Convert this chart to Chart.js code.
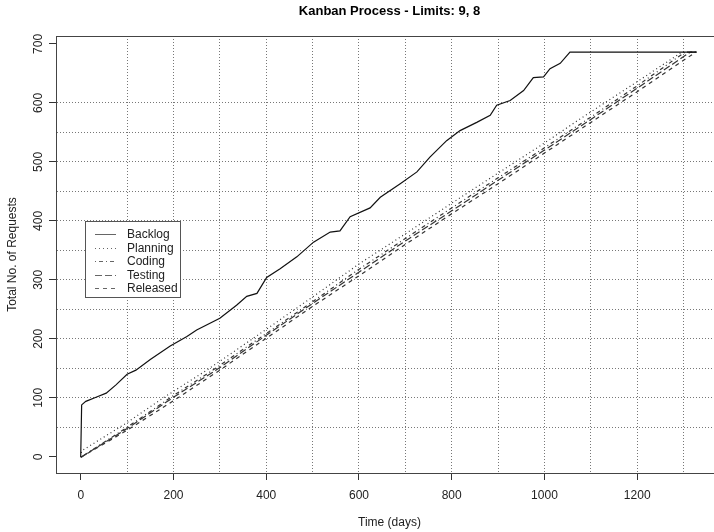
<!doctype html>
<html lang="en">
<head>
    <meta charset="utf-8">
    <title>Kanban Process - Limits: 9, 8</title>
    <script src="https://cdn.jsdelivr.net/npm/chart.js@4/dist/chart.umd.min.js"></script>
    <style>
        html, body { margin: 0; padding: 0; overflow: hidden; background: #fff; }
        canvas { display: block; }
    </style>
</head>
<body>

<canvas id="cfd" width="724" height="532"></canvas>

<script>
    // cumulative number of requests per stage
    var backlog_days = [0, 2, 11, 33, 55, 76, 100, 119, 150, 193, 229, 250, 300, 336, 358, 380, 401, 430, 466,
                        502, 538, 559, 581, 624, 646, 689, 725, 753, 789, 818, 854, 883, 897, 926, 955,
                        976, 998, 1012, 1034, 1055, 1328];
    var backlog = [0, 88, 94, 101, 108, 122, 140, 147, 165, 188, 204, 215, 235, 257, 272, 277, 304, 319, 339,
                   364, 381, 383, 407, 422, 440, 463, 483, 508, 536, 553, 567, 579, 596, 604, 621,
                   643, 644, 658, 667, 686, 686];

    var planning_days = [0, 2, 100, 178, 272, 400, 500, 602, 700, 800, 900, 1000, 1077, 1200, 1296, 1328];
    var planning = [0, 10, 58, 100, 147, 216, 271, 328, 378, 430, 481, 532, 573, 636, 686, 686];

    var coding_days = [0, 2, 100, 200, 285, 400, 500, 602, 700, 800, 900, 1000, 1100, 1200, 1303, 1328];
    var coding = [0, 0, 50, 104, 147, 209, 263, 319, 370, 422, 473, 524, 576, 629, 686, 686];

    var testing_days = [0, 2, 100, 200, 292, 400, 500, 602, 700, 800, 900, 1000, 1100, 1200, 1314, 1328];
    var testing = [0, 0, 48, 101, 147, 206, 260, 314, 366, 417, 469, 520, 572, 625, 686, 686];

    var released_days = [0, 2, 100, 200, 300, 400, 500, 602, 700, 800, 900, 1000, 1100, 1200, 1326, 1328];
    var released = [0, 0, 45, 95, 147, 201, 255, 308, 360, 412, 463, 515, 567, 619, 686, 686];

    var x_ticks = [0, 100, 200, 300, 400, 500, 600, 700, 800, 900, 1000, 1100, 1200, 1300];
    var y_ticks = [0, 50, 100, 150, 200, 250, 300, 350, 400, 450, 500, 550, 600, 650, 700];
    var y_labels = [0, 100, 200, 300, 400, 500, 600, 700];

    var FONT = '"Liberation Sans", Arial, Helvetica, sans-serif';
    Chart.defaults.font.family = FONT;
    Chart.defaults.font.size = 12;
    Chart.defaults.color = "#222";

    function pts(days, vals) {
        return days.map((d, i) => ({x: d, y: vals[i]}));
    }

    function series(label, days, vals, dash, color) {
        return {
            label: label,
            data: pts(days, vals),
            borderColor: color,
            borderWidth: 1.2,
            borderDash: dash,
            pointRadius: 0,
            tension: 0,
            fill: false
        };
    }

    var NONE = "rgba(0,0,0,0)";

    // R style extras: box, rotated y labels, titles, legend inside the plot
    var r_look = {
        id: "r_look",
        afterDraw: function (chart) {
            var ctx = chart.ctx, a = chart.chartArea, ys = chart.scales.y;
            ctx.save();

            ctx.strokeStyle = "#444";
            ctx.lineWidth = 1;
            ctx.setLineDash([]);
            ctx.strokeRect(a.left + 0.5, a.top + 0.5, a.right - a.left, a.bottom - a.top);

            ctx.fillStyle = "#222";
            ctx.font = "12px " + FONT;
            ctx.textAlign = "center";
            ctx.textBaseline = "alphabetic";
            y_labels.forEach(function (v) {
                ctx.save();
                ctx.translate(41.5, ys.getPixelForValue(v));
                ctx.rotate(-Math.PI / 2);
                ctx.fillText(String(v), 0, 0);
                ctx.restore();
            });

            var cx = (a.left + a.right) / 2, cy = (a.top + a.bottom) / 2;
            ctx.fillText("Time (days)", cx, 526);
            ctx.save();
            ctx.translate(16, cy);
            ctx.rotate(-Math.PI / 2);
            ctx.fillText("Total No. of Requests", 0, 0);
            ctx.restore();

            ctx.font = "bold 13px " + FONT;
            ctx.fillStyle = "#000";
            ctx.fillText("Kanban Process - Limits: 9, 8", cx, 15);

            // legend
            var lx = 85.5, ly = 221.5, lw = 95, lh = 76;
            ctx.fillStyle = "#fff";
            ctx.fillRect(lx, ly, lw, lh);
            ctx.strokeStyle = "#555";
            ctx.strokeRect(lx, ly, lw, lh);
            ctx.font = "12px " + FONT;
            ctx.textAlign = "left";
            ctx.textBaseline = "middle";
            chart.data.datasets.forEach(function (ds, i) {
                var y = Math.round(234 + i * 13.5) + 0.5;
                ctx.strokeStyle = "#666";
                ctx.lineWidth = 1;
                ctx.setLineDash(ds.borderDash);
                ctx.beginPath();
                ctx.moveTo(95, y);
                ctx.lineTo(116, y);
                ctx.stroke();
                ctx.fillStyle = "#222";
                ctx.fillText(ds.label, 127, y);
            });
            ctx.restore();
        }
    };

    new Chart("cfd", {
        type: "line",
        data: {
            datasets: [
                series("Backlog", backlog_days, backlog, [], "#111"),
                series("Planning", planning_days, planning, [1, 3], "#333"),
                series("Coding", coding_days, coding, [1, 3, 4, 3], "#333"),
                series("Testing", testing_days, testing, [7, 3], "#333"),
                series("Released", released_days, released, [4, 4], "#333")
            ]
        },
        options: {
            responsive: false,
            animation: false,
            layout: {padding: {top: 36, right: 1, left: 0, bottom: 0}},
            plugins: {
                legend: {display: false},
                tooltip: {enabled: false}
            },
            scales: {
                x: {
                    type: "linear",
                    min: -53.3,
                    max: 1385,
                    afterBuildTicks: function (s) { s.ticks = x_ticks.map(v => ({value: v})); },
                    afterFit: function (s) { s.height = 59; },
                    grid: {
                        color: c => (c.tick && c.tick.value > 0) ? "#777" : NONE,
                        tickColor: c => (c.tick && c.tick.value % 200 === 0) ? "#333" : NONE,
                        tickLength: 7,
                        lineWidth: 1
                    },
                    border: {display: true, color: "#444", dash: [1, 2]},
                    ticks: {
                        autoSkip: false,
                        maxRotation: 0,
                        padding: 8,
                        callback: v => (v % 200 === 0 ? String(v) : "")
                    }
                },
                y: {
                    type: "linear",
                    min: -27.44,
                    max: 713.44,
                    afterBuildTicks: function (s) { s.ticks = y_ticks.map(v => ({value: v})); },
                    afterFit: function (s) { s.width = 56; },
                    grid: {
                        color: c => (c.tick && c.tick.value >= 50 && c.tick.value <= 600) ? "#777" : NONE,
                        tickColor: c => (c.tick && c.tick.value % 100 === 0) ? "#333" : NONE,
                        tickLength: 7,
                        lineWidth: 1
                    },
                    border: {display: true, color: "#444", dash: [1, 2]},
                    ticks: {display: false}
                }
            }
        },
        plugins: [r_look]
    });
</script>

</body>
</html>
